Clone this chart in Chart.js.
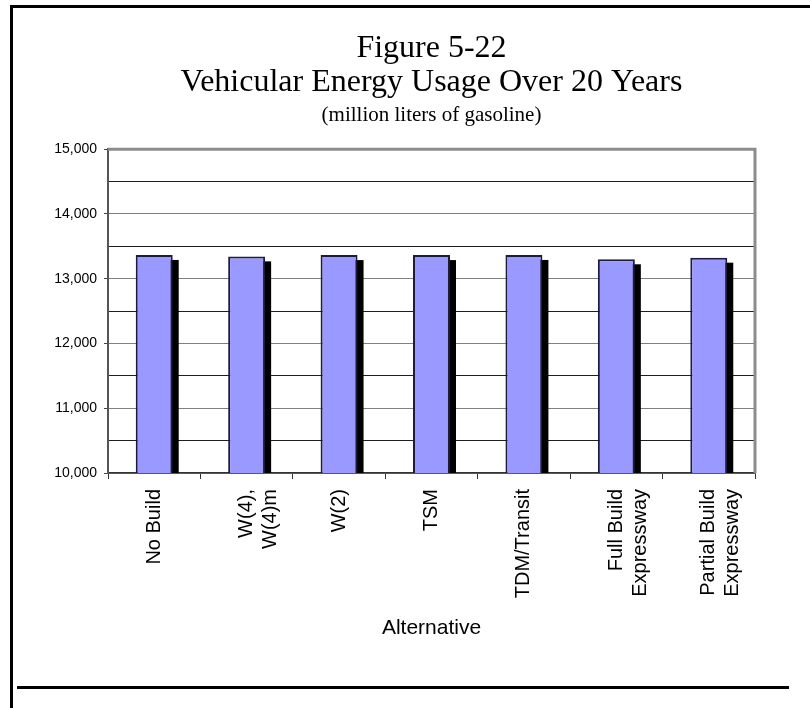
<!DOCTYPE html>
<html>
<head>
<meta charset="utf-8">
<script src="https://cdn.jsdelivr.net/npm/chart.js@4/dist/chart.umd.min.js"></script>
<style>
  html, body { margin: 0; padding: 0; background: #fff; }
  #wrap { position: relative; width: 810px; height: 708px; overflow: hidden; }
  #c { position: absolute; left: 0; top: 0; }
  .ln { position: absolute; background: #000; }
</style>
</head>
<body>
<div id="wrap">
  <canvas id="c" width="810" height="708"></canvas>
  <div class="ln" style="left:10px; top:5px; width:800px; height:3px;"></div>
  <div class="ln" style="left:10px; top:5px; width:3px; height:703px;"></div>
  <div class="ln" style="left:17px; top:686px; width:772px; height:3px;"></div>
</div>
<script>
// ---- data ----
const categories = [
  'No Build',
  ['W(4),', 'W(4)m'],
  'W(2)',
  'TSM',
  'TDM/Transit',
  ['Full Build', 'Expressway'],
  ['Partial Build', 'Expressway']
];
const energyUse = [13367, 13345, 13365, 13365, 13367, 13300, 13325];
const yMin = 10000;
const yMax = 15000;
const yStep = 500;
const titleLines = ['Figure 5-22', 'Vehicular Energy Usage Over 20 Years'];
const subtitleText = '(million liters of gasoline)';
const xAxisTitle = 'Alternative';

// ---- plugins ----
const barShadow = {
  id: 'barShadow',
  beforeDatasetsDraw(chart) {
    const ctx = chart.ctx;
    const area = chart.chartArea;
    chart.getDatasetMeta(0).data.forEach(bar => {
      const p = bar.getProps(['x', 'y', 'base', 'width'], true);
      ctx.save();
      ctx.beginPath();
      ctx.rect(area.left, area.top, area.right - area.left, area.bottom - area.top);
      ctx.clip();
      ctx.fillStyle = '#000';
      ctx.fillRect(p.x - p.width / 2 + 6, p.y + 5, p.width, p.base - p.y);
      ctx.restore();
    });
  }
};
const plotFrame = {
  id: 'plotFrame',
  afterDraw(chart) {
    const ctx = chart.ctx;
    const a = chart.chartArea;
    ctx.save();
    ctx.strokeStyle = '#8c8c8c';
    ctx.lineWidth = 3;
    ctx.beginPath();
    ctx.moveTo(a.left, a.top);
    ctx.lineTo(a.right, a.top);
    ctx.lineTo(a.right, a.bottom);
    ctx.stroke();
    ctx.restore();
  }
};

new Chart(document.getElementById('c'), {
  type: 'bar',
  data: {
    labels: categories,
    datasets: [{
      data: energyUse,
      backgroundColor: '#9999ff',
      borderColor: '#1c1c3a',
      borderWidth: 2,
      borderSkipped: 'bottom',
      barPercentage: 0.4,
      categoryPercentage: 1.0
    }]
  },
  options: {
    responsive: false,
    animation: false,
    devicePixelRatio: 1,
    layout: { padding: { left: 0, right: 55, top: 0, bottom: 67 } },
    plugins: {
      legend: { display: false },
      tooltip: { enabled: false },
      title: {
        display: true,
        fullSize: false,
        text: titleLines,
        color: '#000',
        font: { family: 'Liberation Serif', size: 32, weight: 'normal', lineHeight: 1.0625 },
        padding: { top: 32, bottom: 0 }
      },
      subtitle: {
        display: true,
        fullSize: false,
        text: subtitleText,
        color: '#000',
        font: { family: 'Liberation Serif', size: 21, weight: 'normal', lineHeight: 1.2 },
        padding: { top: 2.5, bottom: 21.5 }
      }
    },
    scales: {
      x: {
        offset: true,
        afterFit(scale) { scale.height = 168; },
        grid: {
          offset: true,
          drawOnChartArea: false,
          tickLength: 6,
          tickColor: '#333',
          tickWidth: 1
        },
        border: { display: true, color: '#333', width: 1.5 },
        ticks: {
          color: '#000',
          font: { family: 'Liberation Sans', size: 20 },
          maxRotation: 90,
          minRotation: 90,
          autoSkip: false,
          padding: 10
        },
        title: {
          display: true,
          text: xAxisTitle,
          color: '#000',
          font: { family: 'Liberation Sans', size: 21, lineHeight: 1.2 },
          padding: { top: 6, bottom: 0 }
        }
      },
      y: {
        min: yMin,
        max: yMax,
        afterFit(scale) { scale.width = 108; },
        grid: {
          color: ctx => (ctx.tick && ctx.tick.value % 1000 === 0) ? '#808080' : '#1e1e1e',
          lineWidth: 1,
          tickLength: 4,
          tickColor: ctx => (ctx.tick && ctx.tick.value % 1000 === 0) ? '#444' : 'rgba(0,0,0,0)'
        },
        border: { display: true, color: '#555', width: 2 },
        ticks: {
          stepSize: yStep,
          color: '#000',
          font: { family: 'Liberation Sans', size: 14 },
          padding: 7,
          callback: v => (v % 1000 === 0) ? v.toLocaleString('en-US') : ''
        }
      }
    }
  },
  plugins: [barShadow, plotFrame]
});
</script>
</body>
</html>
